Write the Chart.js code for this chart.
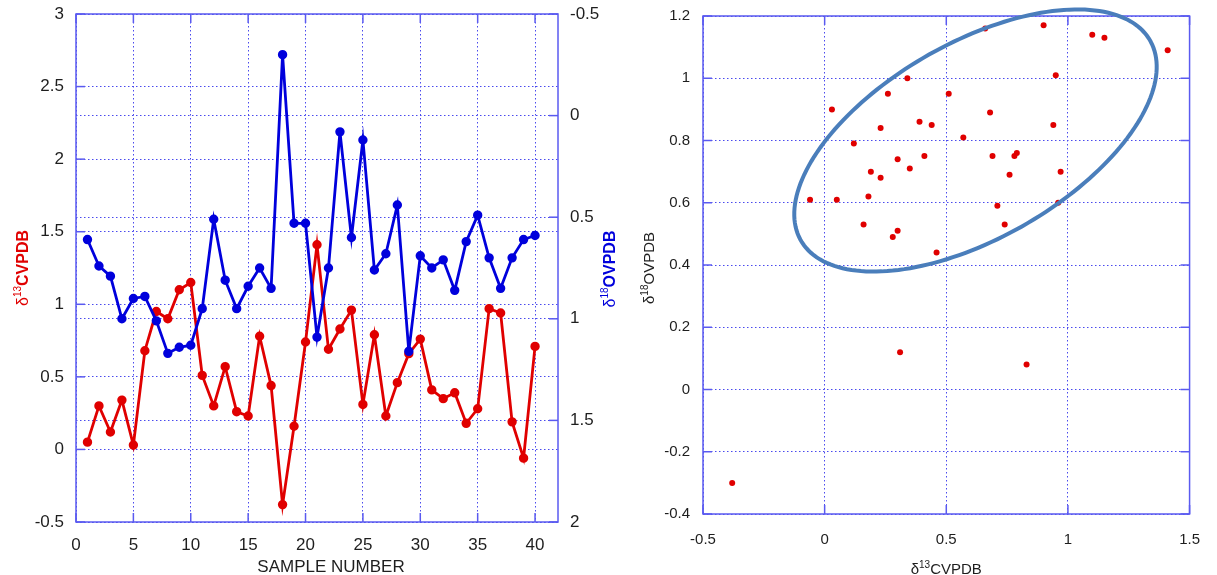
<!DOCTYPE html>
<html lang="en">
<head>
<meta charset="UTF-8">
<title>Carbon and oxygen isotopes</title>
<script src="https://cdn.jsdelivr.net/npm/chart.js"></script>
<style>
  html, body { margin: 0; padding: 0; background: #fff; }
  #wrap { position: relative; width: 1217px; height: 575px; overflow: hidden; }
  #left { position: absolute; left: 0; top: 0; }
  #right { position: absolute; left: 640px; top: 0; }
</style>
</head>
<body>
<div id="wrap">
  <canvas id="left" width="640" height="575"></canvas>
  <canvas id="right" width="577" height="575"></canvas>
</div>
<script>
var sampleNumbers = [1, 2, 3, 4, 5, 6, 7, 8, 9, 10, 11, 12, 13, 14, 15, 16, 17, 18, 19, 20,
                     21, 22, 23, 24, 25, 26, 27, 28, 29, 30, 31, 32, 33, 34, 35, 36, 37, 38, 39, 40];
var d13C = [0.05, 0.30, 0.12, 0.34, 0.03, 0.68, 0.95, 0.90, 1.10, 1.15,
            0.51, 0.30, 0.57, 0.26, 0.23, 0.78, 0.44, -0.38, 0.16, 0.74,
            1.41, 0.69, 0.83, 0.96, 0.31, 0.79, 0.23, 0.46, 0.66, 0.76,
            0.41, 0.35, 0.39, 0.18, 0.28, 0.97, 0.94, 0.19, -0.06, 0.71];
var d18O = [0.61, 0.74, 0.79, 1.00, 0.90, 0.89, 1.01, 1.17, 1.14, 1.13,
            0.95, 0.51, 0.81, 0.95, 0.84, 0.75, 0.85, -0.30, 0.53, 0.53,
            1.09, 0.75, 0.08, 0.60, 0.12, 0.76, 0.68, 0.44, 1.16, 0.69,
            0.75, 0.71, 0.86, 0.62, 0.49, 0.70, 0.85, 0.70, 0.61, 0.59];

var sampleTicks = [0, 5, 10, 15, 20, 25, 30, 35, 40];
var d13CTicks = [-0.5, 0, 0.5, 1, 1.5, 2, 2.5, 3];
var d18OTicks = [-0.5, 0, 0.5, 1, 1.5, 2];
var crossXTicks = [-0.5, 0, 0.5, 1, 1.5];
var crossYTicks = [-0.4, -0.2, 0, 0.2, 0.4, 0.6, 0.8, 1, 1.2];

// hand drawn outline round the main group, in data units: centre plus two half-axis vectors
var cluster = { cx: 0.62, cy: 0.80, ux: 0.72, uy: 0.318, vx: 0.191, vy: -0.276 };

var FONT = "'Liberation Sans', Arial, sans-serif";
var RED = '#e00000';
var BLUE = '#0000dc';
var INK = '#1e1e1e';
var GRID = '#4a4aee';
var FRAME = '#5a5af0';
var DOTS = [1.5, 2.5];

function setTicks(values) {
    return function (scale) {
        scale.ticks = values.map(function (v) { return { value: v }; });
    };
}

function fmt(v) {
    return String(Math.round(v * 10) / 10);
}

// fixed axis widths, and no extra room for the end labels (layout padding handles that)
function fixWidth(w) {
    return function (s) { s.width = w; s.paddingTop = 0; s.paddingBottom = 0; };
}
function fixHeight(h) {
    return function (s) { s.height = h; };
}

// delta label with the mass number raised, e.g. δ13CVPDB
function isoLabel(ctx, x, y, mass, rest, o) {
    var big = o.size, small = Math.round(o.size * 0.64);
    ctx.save();
    ctx.translate(x, y);
    if (o.rotate) ctx.rotate(-Math.PI / 2);
    ctx.fillStyle = o.color;
    ctx.textBaseline = 'alphabetic';
    ctx.textAlign = 'left';
    ctx.font = big + 'px ' + FONT;
    var w1 = ctx.measureText('δ').width;
    ctx.font = small + 'px ' + FONT;
    var w2 = ctx.measureText(mass).width;
    ctx.font = o.weight + ' ' + big + 'px ' + FONT;
    var w3 = ctx.measureText(rest).width;
    var x0 = -(w1 + w2 + w3) / 2;
    var base = big * 0.36;
    ctx.font = big + 'px ' + FONT;
    ctx.fillText('δ', x0, base);
    ctx.font = small + 'px ' + FONT;
    ctx.fillText(mass, x0 + w1, base - big * 0.4);
    ctx.font = o.weight + ' ' + big + 'px ' + FONT;
    ctx.fillText(rest, x0 + w1 + w2, base);
    ctx.restore();
}

function drawFrame(chart, marks, len) {
    var ctx = chart.ctx, a = chart.chartArea;
    ctx.save();
    ctx.strokeStyle = FRAME;
    ctx.lineWidth = 1.5;
    ctx.strokeRect(a.left, a.top, a.right - a.left, a.bottom - a.top);
    marks.forEach(function (m) {
        var s = chart.scales[m.id];
        s.ticks.forEach(function (t) {
            var p = s.getPixelForValue(t.value);
            m.sides.forEach(function (side) {
                ctx.beginPath();
                if (side === 'left') { ctx.moveTo(a.left, p); ctx.lineTo(a.left + len, p); }
                if (side === 'right') { ctx.moveTo(a.right, p); ctx.lineTo(a.right - len, p); }
                if (side === 'top') { ctx.moveTo(p, a.top); ctx.lineTo(p, a.top + len); }
                if (side === 'bottom') { ctx.moveTo(p, a.bottom); ctx.lineTo(p, a.bottom - len); }
                ctx.stroke();
            });
        });
    });
    ctx.restore();
}

function axisOpts(min, max, ticks, size, pad, fit) {
    return {
        type: 'linear',
        min: min,
        max: max,
        afterBuildTicks: setTicks(ticks),
        afterFit: fit,
        grid: { color: GRID, lineWidth: 1, drawTicks: false },
        border: { display: false, dash: DOTS },
        ticks: {
            color: INK,
            padding: pad,
            maxRotation: 0,
            autoSkip: false,
            font: { family: FONT, size: size },
            callback: function (v) { return fmt(v); }
        }
    };
}

// left: both isotopes against sample number
var leftX = axisOpts(0, 42, sampleTicks, 17, 13, fixHeight(53));
var leftY = axisOpts(-0.5, 3, d13CTicks, 17, 12, fixWidth(76));
var leftY2 = axisOpts(-0.5, 2, d18OTicks, 17, 12, fixWidth(82));
leftY2.position = 'right';
leftY2.reverse = true;

new Chart(document.getElementById('left'), {
    type: 'line',
    data: {
        datasets: [
            {
                label: 'δ18O',
                yAxisID: 'y2',
                data: sampleNumbers.map(function (n, i) { return { x: n, y: d18O[i] }; }),
                borderColor: BLUE,
                backgroundColor: BLUE,
                borderWidth: 2.8,
                pointRadius: 3.3,
                pointHoverRadius: 3.3,
                tension: 0
            },
            {
                label: 'δ13C',
                yAxisID: 'y',
                data: sampleNumbers.map(function (n, i) { return { x: n, y: d13C[i] }; }),
                borderColor: RED,
                backgroundColor: RED,
                borderWidth: 2.8,
                pointRadius: 3.3,
                pointHoverRadius: 3.3,
                tension: 0
            }
        ]
    },
    options: {
        responsive: false,
        animation: false,
        layout: { padding: { top: 14, right: 0, bottom: 0, left: 0 } },
        plugins: { legend: { display: false }, tooltip: { enabled: false } },
        scales: { x: leftX, y: leftY, y2: leftY2 }
    },
    plugins: [{
        id: 'leftDecor',
        afterDraw: function (chart) {
            var ctx = chart.ctx, a = chart.chartArea;
            var mid = (a.top + a.bottom) / 2;
            drawFrame(chart, [
                { id: 'x', sides: ['top', 'bottom'] },
                { id: 'y', sides: ['left'] },
                { id: 'y2', sides: ['right'] }
            ], 9);
            isoLabel(ctx, 22, mid, '13', 'CVPDB', { size: 16, weight: 'bold', color: RED, rotate: true });
            isoLabel(ctx, 609, mid + 1, '18', 'OVPDB', { size: 16, weight: 'bold', color: BLUE, rotate: true });
            ctx.save();
            ctx.fillStyle = INK;
            ctx.font = '17px ' + FONT;
            ctx.textAlign = 'center';
            ctx.textBaseline = 'middle';
            ctx.fillText('SAMPLE NUMBER', (a.left + a.right) / 2 + 14, 567);
            ctx.restore();
        }
    }]
});

// right: δ18O against δ13C
var crossX = axisOpts(-0.5, 1.5, crossXTicks, 15, 17, fixHeight(61));
var crossY = axisOpts(-0.4, 1.2, crossYTicks, 15, 13, fixWidth(63));

new Chart(document.getElementById('right'), {
    type: 'scatter',
    data: {
        datasets: [{
            label: 'samples',
            data: d13C.map(function (c, i) { return { x: c, y: d18O[i] }; }),
            backgroundColor: RED,
            borderColor: RED,
            borderWidth: 0,
            pointRadius: 3,
            pointHoverRadius: 3
        }]
    },
    options: {
        responsive: false,
        animation: false,
        layout: { padding: { top: 16, right: 18, bottom: 0, left: 0 } },
        plugins: { legend: { display: false }, tooltip: { enabled: false } },
        scales: { x: crossX, y: crossY }
    },
    plugins: [{
        id: 'rightDecor',
        afterDraw: function (chart) {
            var ctx = chart.ctx, a = chart.chartArea;
            var sx = chart.scales.x, sy = chart.scales.y;
            drawFrame(chart, [
                { id: 'x', sides: ['top', 'bottom'] },
                { id: 'y', sides: ['left', 'right'] }
            ], 9);
            ctx.save();
            ctx.strokeStyle = '#4a7ebb';
            ctx.lineWidth = 4;
            ctx.beginPath();
            for (var k = 0; k <= 180; k++) {
                var t = k / 180 * Math.PI * 2;
                var px = sx.getPixelForValue(cluster.cx + cluster.ux * Math.cos(t) + cluster.vx * Math.sin(t));
                var py = sy.getPixelForValue(cluster.cy + cluster.uy * Math.cos(t) + cluster.vy * Math.sin(t));
                if (k === 0) ctx.moveTo(px, py); else ctx.lineTo(px, py);
            }
            ctx.closePath();
            ctx.stroke();
            ctx.restore();
            isoLabel(ctx, 9, (a.top + a.bottom) / 2 + 3, '18', 'OVPDB', { size: 15, weight: 'normal', color: INK, rotate: true });
            isoLabel(ctx, (a.left + a.right) / 2, 569, '13', 'CVPDB', { size: 15, weight: 'normal', color: INK, rotate: false });
        }
    }]
});
</script>
</body>
</html>
